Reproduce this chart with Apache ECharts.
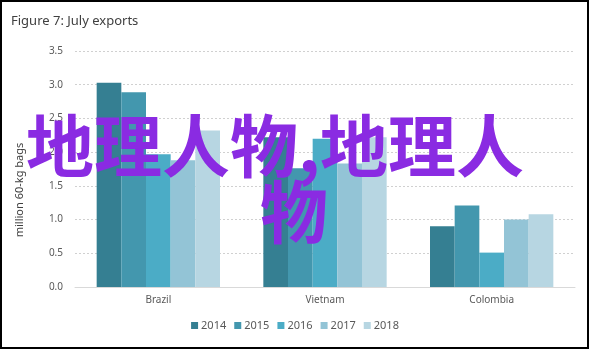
<!DOCTYPE html>
<html>
<head>
<meta charset="utf-8">
<script src="https://cdn.jsdelivr.net/npm/echarts@6/dist/echarts.min.js"></script>
<style>
  html, body { margin: 0; padding: 0; background: #fff; }
  #chart { width: 590px; height: 351px; }
</style>
</head>
<body>
<div id="chart"></div>
<script>
// categories + series
const countries = ['Brazil', 'Vietnam', 'Colombia'];
const years = ['2014', '2015', '2016', '2017', '2018'];
const exports2014 = [3.03, 2.22, 0.90];
const exports2015 = [2.89, 1.76, 1.21];
const exports2016 = [1.97, 2.20, 0.51];
const exports2017 = [1.88, 1.83, 1.00];
const exports2018 = [2.32, 2.22, 1.08];
const yTicks = [0, 0.5, 1.0, 1.5, 2.0, 2.5, 3.0, 3.5];

const colors = ['#357f92', '#4397ae', '#4bacc6', '#93c4d6', '#b7d6e2'];
const allSeries = [exports2014, exports2015, exports2016, exports2017, exports2018];

const myChart = echarts.init(document.getElementById('chart'));

const option = {
  animation: false,
  color: colors,
  title: {
    text: 'Figure 7: July exports',
    left: 6,
    top: 10,
    textStyle: { fontFamily: 'Noto Sans', fontSize: 13, fontWeight: 'normal', color: '#404040' }
  },
  grid: { left: 75, right: 15, top: 51, bottom: 64 },
  legend: {
    bottom: 15,
    left: 'center',
    itemWidth: 7,
    itemHeight: 7,
    itemGap: 8,
    icon: 'rect',
    textStyle: { fontFamily: 'Noto Sans', fontSize: 11, color: '#595959', padding: [0, 0, 0, -2] },
    data: years
  },
  xAxis: {
    type: 'category',
    data: countries,
    axisTick: { show: false },
    axisLine: { lineStyle: { color: '#d9d9d9' } },
    axisLabel: { fontFamily: 'Noto Sans', fontSize: 10, color: '#595959', margin: 8 }
  },
  yAxis: {
    type: 'value',
    min: 0,
    max: yTicks[yTicks.length - 1],
    interval: 0.5,
    name: 'million 60-kg bags',
    nameLocation: 'middle',
    nameRotate: 90,
    nameGap: 50,
    nameTextStyle: { fontFamily: 'Noto Sans', fontSize: 11, color: '#404040', padding: [0, 0, 0, -42] },
    axisLine: { show: false },
    axisTick: { show: false },
    axisLabel: {
      fontFamily: 'Noto Sans', fontSize: 10, color: '#595959', margin: 12,
      formatter: v => v.toFixed(1)
    },
    splitLine: { lineStyle: { color: '#d0d0d0', type: [2, 2], width: 1 } }
  },
  series: allSeries.map((vals, i) => ({
    name: years[i],
    type: 'bar',
    data: vals,
    barGap: '0%',
    barCategoryGap: '26%'
  })),
  graphic: [
    {
      type: 'text',
      z: 100,
      left: 26,
      top: 112,
      style: {
        text: '地理人物,地理人',
        fontFamily: 'Noto Sans CJK SC',
        fontSize: 68,
        fontWeight: 'bold',
        fill: '#8a2be2'
      }
    },
    {
      type: 'text',
      z: 100,
      left: 260,
      top: 178,
      style: {
        text: '物',
        fontFamily: 'Noto Sans CJK SC',
        fontSize: 68,
        fontWeight: 'bold',
        fill: '#8a2be2'
      }
    },
    {
      type: 'rect',
      z: 101,
      shape: { x: 1, y: 1, width: 587, height: 347 },
      style: { fill: 'none', stroke: '#000', lineWidth: 2 }
    }
  ]
};

option && myChart.setOption(option);
</script>
</body>
</html>
